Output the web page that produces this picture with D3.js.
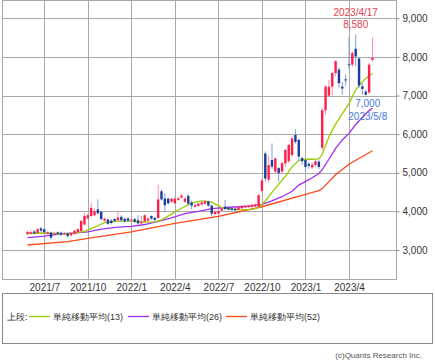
<!DOCTYPE html>
<html><head><meta charset="utf-8">
<script src="https://cdn.jsdelivr.net/npm/d3@7/dist/d3.min.js"></script>
<style>
body{margin:0;background:#fff;}
svg text{font-family:"Liberation Sans",Arial,sans-serif;}
</style></head><body>
<svg id="c" width="435" height="360"></svg>
<script>
// ---- data (weekly candles, first week starting 2021-05-31) ----
const firstWeek = "2021-05-31";
const opens  = [3410,3420,3480,3440,3560,3540,3420,3450,3400,3460,3450,3410,3430,3380,3420,3460,3490,3660,3820,3880,3900,4050,3990,3760,3790,3760,3800,3770,3860,3810,3820,3760,3800,3770,3690,3740,3760,3880,3830,3830,4520,4330,4330,4250,4210,4300,4360,4250,4400,4230,4120,4140,4180,4200,4260,4150,3930,3940,4020,4120,4100,4080,4070,4040,4080,4100,4110,4120,4130,4120,4530,5500,4820,5330,5030,5120,5030,5240,5300,5460,5980,5850,5380,5330,5230,5140,5200,5290,5650,6620,7000,7230,7580,7670,7230,7420,7810,7800,8210,7960,7240,7100,7080,7920];
const highs  = [3500,3520,3520,3560,3600,3560,3500,3480,3470,3480,3480,3470,3450,3460,3520,3560,3780,3950,3940,4230,4080,4310,4010,3840,3810,3800,3830,4000,3900,3830,3850,3820,3830,3900,3880,3930,3850,3900,3860,4690,4560,4470,4360,4360,4360,4380,4460,4380,4450,4280,4200,4240,4260,4300,4280,4180,4020,4040,4110,4300,4130,4100,4090,4130,4160,4170,4180,4200,4210,4450,4850,5550,5450,5760,5400,5150,5300,5620,5750,5950,6130,5880,5420,5350,5280,5260,5350,5330,6680,7270,7400,7620,7920,7720,7350,7550,8500,8150,8580,8000,7320,7150,7850,8500];
const lows   = [3380,3400,3400,3420,3460,3420,3380,3270,3360,3380,3360,3380,3330,3350,3400,3440,3470,3640,3790,3860,3870,3920,3780,3730,3650,3660,3720,3750,3740,3710,3730,3730,3700,3660,3660,3720,3730,3780,3750,3800,4280,3980,4180,4220,4190,4270,4330,4220,4150,4050,4100,4110,4150,4170,4120,3870,3900,3920,4000,4030,4020,4010,4000,4020,4060,4080,4090,4100,4110,4100,4500,4770,4750,5100,4980,4770,4950,5150,5250,5400,5750,5300,5200,5020,5100,5100,5150,5100,5580,6500,6980,7000,7500,7200,7020,7250,7700,7750,7760,7200,7020,7000,7030,7880];
const closes = [3470,3460,3430,3540,3500,3460,3460,3320,3430,3420,3400,3440,3360,3440,3500,3540,3750,3880,3900,4090,4000,3950,3800,3810,3680,3700,3750,3840,3770,3740,3760,3790,3730,3690,3730,3900,3810,3810,3780,4310,4310,4160,4210,4330,4330,4340,4410,4330,4200,4150,4160,4200,4230,4260,4150,3940,3990,4010,4080,4060,4050,4040,4030,4110,4140,4140,4150,4170,4180,4420,4800,4850,5200,5160,5370,4990,5250,5590,5720,5890,5800,5420,5300,5150,5180,5210,5300,5150,6620,7230,7230,7580,7890,7320,7180,7390,7790,8100,8010,7260,7170,7020,7800,7980];

// moving averages (week index -> value)
const ma13Idx = [0,5,10,14,17,20,23,27,31,35,38,40,43,46,49,52,55,58,61,64,67,69,71,73,75,77,79,81,83,85,87,88,90,92,94,96,98,100,102,103];
const ma13    = [3430,3440,3420,3430,3480,3590,3710,3750,3750,3720,3730,3780,3930,4080,4220,4270,4240,4100,4060,4040,4050,4100,4270,4490,4700,4910,5150,5320,5350,5350,5360,5480,5930,6260,6530,6790,7150,7360,7520,7570];
const ma26Idx = [0,5,10,14,18,22,27,31,35,39,43,47,51,55,59,63,67,70,73,76,79,81,83,85,87,88,90,92,94,96,98,100,102,103];
const ma26    = [3320,3360,3420,3440,3470,3540,3590,3610,3660,3740,3830,3940,4000,4070,4100,4120,4140,4180,4270,4380,4520,4680,4770,4870,4980,5080,5350,5630,5850,6020,6250,6430,6610,6670];
const ma52Idx = [0,12,18,31,44,57,70,83,87,88,92,96,100,103];
const ma52    = [3130,3215,3300,3470,3690,3870,4120,4440,4540,4590,4950,5220,5420,5570];

const tickDates  = ["2021-07-05","2021-10-04","2022-01-03","2022-04-04","2022-07-04","2022-10-03","2023-01-02","2023-04-03"];
const tickLabels = ["2021/7","2021/10","2022/1","2022/4","2022/7","2022/10","2023/1","2023/4"];
const yTicks = [3000,4000,5000,6000,7000,8000,9000];
const legendPrefix = "上段:";
const legendLabels = ["単純移動平均(13)","単純移動平均(26)","単純移動平均(52)"];
const maColors = ["#99cc00","#a030f0","#ff4a1a"];
const copyright = "(c)Quants Research Inc.";

// ---- drawing ----
const svg = d3.select("#c");
const parse = d3.utcParse("%Y-%m-%d");
const start = parse(firstWeek);
const weekDate = i => d3.utcDay.offset(start, 7*i);

const L = 2.5, R = 396.5, T = 0.5, B = 279.5;
const x = d3.scaleUtc().domain([parse(tickDates[0]), parse(tickDates[7])]).range([44.3, 349]);
const y = d3.scaleLinear().domain([3000, 9000]).range([250, 18.3]);
const cx = i => x(weekDate(i));

// grid
const g = svg.append("g");
g.selectAll("line.h").data(yTicks).join("line")
  .attr("x1", L).attr("x2", R)
  .attr("y1", d => Math.round(y(d)) + 0.5).attr("y2", d => Math.round(y(d)) + 0.5)
  .attr("stroke", "#a8a8a8").attr("stroke-width", 1);
g.selectAll("line.v").data(tickDates).join("line")
  .attr("y1", T).attr("y2", B)
  .attr("x1", d => Math.round(x(parse(d))) + 0.5).attr("x2", d => Math.round(x(parse(d))) + 0.5)
  .attr("stroke", "#a8a8a8").attr("stroke-width", 1);
g.append("rect").attr("x", L).attr("y", T).attr("width", R - L).attr("height", B - T)
  .attr("fill", "none").attr("stroke", "#a8a8a8");

// y axis (right)
const yAxis = d3.axisRight(y).tickValues(yTicks).tickFormat(d3.format(",")).tickSize(3).tickPadding(3);
const ya = svg.append("g").attr("transform", `translate(${R},0)`).call(yAxis);
ya.select(".domain").remove();
ya.selectAll(".tick line").attr("stroke", "#888");
ya.selectAll(".tick text").attr("font-size", 10).attr("fill", "#333")
  .attr("font-family", "'Liberation Sans',Arial,sans-serif");

// x axis
const xAxis = d3.axisBottom(x).tickValues(tickDates.map(parse)).tickFormat((d, i) => tickLabels[i]).tickSize(0).tickPadding(4);
const xa = svg.append("g").attr("transform", `translate(0,${B})`).call(xAxis);
xa.select(".domain").remove();
xa.selectAll(".tick text").attr("font-size", 10).attr("fill", "#333")
  .attr("font-family", "'Liberation Sans',Arial,sans-serif");

// moving averages
const lineFor = idx => d3.line().x((v, k) => cx(idx[k])).y(v => y(v));
[[ma52Idx, ma52, 2], [ma26Idx, ma26, 1], [ma13Idx, ma13, 0]].forEach(([idx, vals, c]) => {
  svg.append("path").attr("d", lineFor(idx)(vals)).attr("fill", "none")
    .attr("stroke", maColors[c]).attr("stroke-width", 1.3);
});

// candles
const up = "#ff1f4b", dn = "#1c3c9c", upW = "#ff8fa6", dnW = "#7f9ce0";
const cg = svg.append("g");
opens.forEach((o, i) => {
  const c = closes[i], isUp = c >= o, xc = cx(i);
  cg.append("line").attr("x1", xc).attr("x2", xc)
    .attr("y1", y(highs[i])).attr("y2", y(lows[i]))
    .attr("stroke", isUp ? upW : dnW).attr("stroke-width", 1);
  const yt = y(Math.max(o, c)), yb = y(Math.min(o, c));
  cg.append("rect").attr("x", xc - 1.2).attr("width", 2.4)
    .attr("y", yt).attr("height", Math.max(1, yb - yt))
    .attr("fill", isUp ? up : dn);
});

// high / low annotations (high of the chart, and the lowest low after that high)
const fmtD = d3.utcFormat("%Y/%-m/%-d"), fmtN = d3.format(",");
const hi = d3.maxIndex(highs);
const lo = hi + d3.minIndex(lows.slice(hi));
const ann = svg.append("g").attr("font-size", 10).attr("text-anchor", "middle");
ann.append("text").attr("x", cx(hi)).attr("y", y(highs[hi]) - 19).attr("fill", "#e8404f").text(fmtD(weekDate(hi)));
ann.append("text").attr("x", cx(hi)).attr("y", y(highs[hi]) - 7).attr("fill", "#e8404f").text(fmtN(highs[hi]));
ann.append("text").attr("x", cx(lo) + 2).attr("y", y(lows[lo]) + 11).attr("fill", "#4a78e0").text(fmtN(lows[lo]));
ann.append("text").attr("x", cx(lo) + 2).attr("y", y(lows[lo]) + 24).attr("fill", "#4a78e0").text(fmtD(weekDate(lo)));

// legend
svg.append("rect").attr("x", 2.5).attr("y", 293.5).attr("width", 430).attr("height", 50)
  .attr("fill", "none").attr("stroke", "#888");
const lg = svg.append("g").attr("font-size", 9).attr("fill", "#333")
  .attr("font-family", "'Noto Sans CJK JP',sans-serif");
lg.append("text").attr("x", 7).attr("y", 319.5).text(legendPrefix);
const legX = [29, 128, 226];
legendLabels.forEach((t, k) => {
  lg.append("line").attr("x1", legX[k]).attr("x2", legX[k] + 21).attr("y1", 316.5).attr("y2", 316.5)
    .attr("stroke", maColors[k]).attr("stroke-width", 1.3);
  lg.append("text").attr("x", legX[k] + 24).attr("y", 319.5).text(t);
});

svg.append("text").attr("x", 422).attr("y", 358).attr("text-anchor", "end")
  .attr("font-size", 8).attr("fill", "#555").text(copyright);
</script>
</body></html>
